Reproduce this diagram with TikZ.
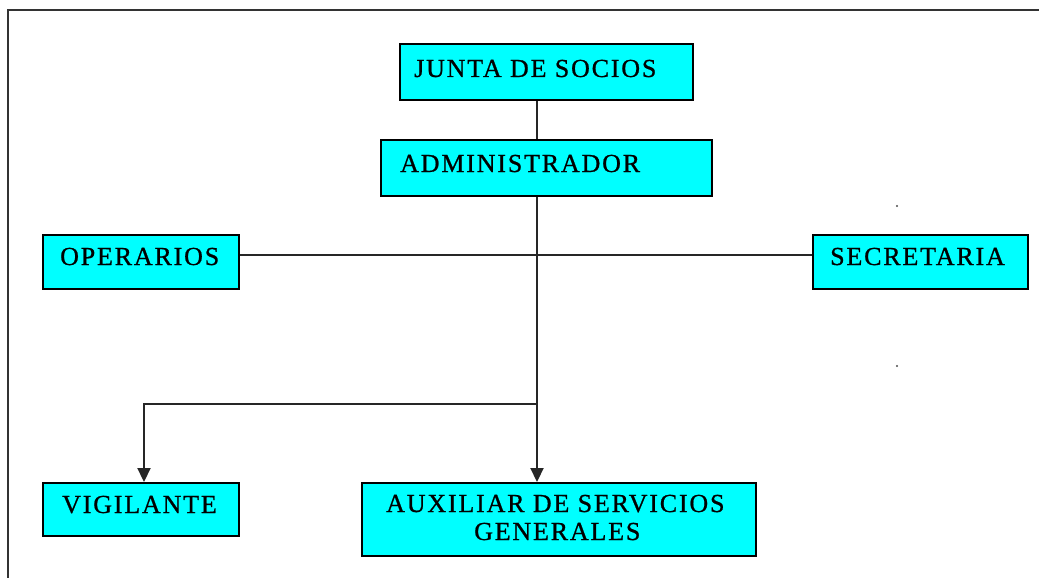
\documentclass[tikz,border=0pt]{standalone}
\usepackage{fontspec}
\setmainfont{Liberation Serif}
\usetikzlibrary{arrows.meta}
\definecolor{boxcyan}{RGB}{0,255,255}
\tikzset{
  orgbox/.style={draw=black, line width=2.4pt, fill=boxcyan, rectangle, inner sep=0pt, anchor=north west},
  orgtext/.style={anchor=base west, inner sep=0pt, font=\fontsize{26}{30}\selectfont\addfontfeature{LetterSpace=7,FakeBold=0.8}},
  link/.style={draw=black!85, line width=2.2pt},
  arr/.style={link, -{Triangle[length=14pt,width=13pt]}},
}
\begin{document}
\begin{tikzpicture}[x=1pt,y=-1pt]
\useasboundingbox (0,0) rectangle (1039,578);
% frame
\draw[black!80, line width=2pt] (8,578) -- (8,10) -- (1039,10);
% boxes
\node[orgbox, minimum width=293pt, minimum height=56pt] (junta) at (399,43) {};
\node[orgbox, minimum width=331pt, minimum height=56pt] (admin) at (380,139) {};
\node[orgbox, minimum width=196pt, minimum height=54pt] (oper) at (42,234) {};
\node[orgbox, minimum width=215pt, minimum height=54pt] (secr) at (812,234) {};
\node[orgbox, minimum width=196pt, minimum height=53pt] (vigi) at (42,482) {};
\node[orgbox, minimum width=394pt, minimum height=73pt] (aux) at (361,482) {};
% texts
\node[orgtext] (tjunta) at (414,77) {JUNTA DE SOCIOS};
\node[orgtext] (tadmin) at (400,172) {ADMINISTRADOR};
\node[orgtext] (toper) at (60,265) {OPERARIOS};
\node[orgtext] (tsecr) at (830,265) {SECRETARIA};
\node[orgtext] (tvigi) at (62,513) {VIGILANTE};
\node[orgtext] (taux1) at (386,512) {AUXILIAR DE SERVICIOS};
\node[orgtext] (taux2) at (474,540) {GENERALES};
% helper coordinates
\coordinate (sx) at (537,0);
\coordinate (hy) at (0,255);
\coordinate (vx) at (144,0);
\coordinate (branch) at (537,404);
\coordinate (bleft) at (144,404);
% connectors
\draw[link] (junta.south -| sx) -- (admin.north -| sx);
\draw[link] (oper.east |- hy) -- (secr.west |- hy);
\draw[arr] (admin.south -| sx) -- (aux.north -| sx);
\draw[arr] (branch) -- (bleft) -- (vigi.north -| vx);
% stray dots
\fill[black!70] (897,206) circle (1.2pt);
\fill[black!70] (897,366) circle (1.2pt);
\end{tikzpicture}
\end{document}
